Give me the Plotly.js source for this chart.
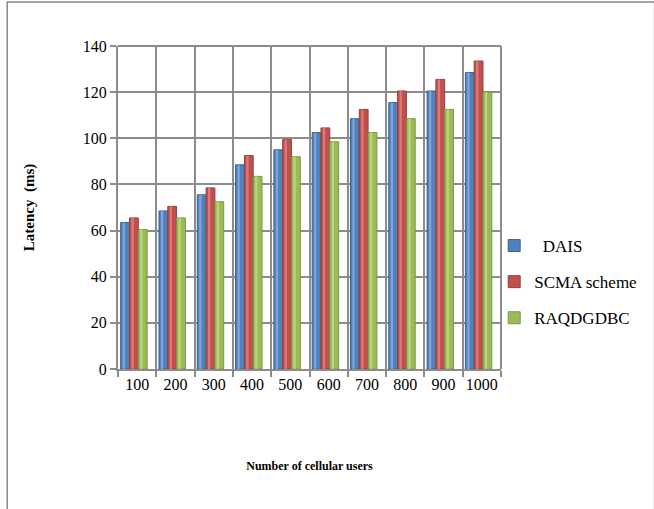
<!DOCTYPE html>
<html>
<head>
<meta charset="utf-8">
<script src="https://cdn.plot.ly/plotly-3.0.1.min.js"></script>
<style>
  html, body { margin: 0; padding: 0; background: #ffffff; }
  #chart { width: 654px; height: 509px; }
</style>
</head>
<body>
<div id="chart"></div>
<script>
// Latency (ms) per number of cellular users, for each scheme
const users = ['100', '200', '300', '400', '500', '600', '700', '800', '900', '1000'];
const dais = [63.5, 68.5, 75.5, 88.5, 95, 102.5, 108.5, 115.5, 120.5, 128.5];
const scma = [65.5, 70.5, 78.5, 92.5, 99.5, 104.5, 112.5, 120.5, 125.5, 133.5];
const raqdgdbc = [60.5, 65.5, 72.5, 83.5, 92, 98.5, 102.5, 108.5, 112.5, 120];

const seriesNames = ['\u00a0\u00a0DAIS', 'SCMA scheme', 'RAQDGDBC'];
const seriesValues = [dais, scma, raqdgdbc];
const fillColors = ['#4f81bd', '#c0504d', '#9bbb59'];
const edgeColors = ['#3a6295', '#94403e', '#789a40'];
const shineColors = ['#8fb2e0', '#e08a88', '#c4dd8f'];

const SERIF = 'Liberation Serif';

const xIdx = users.map((_, i) => i);
const barWidth = 0.23;
const offsets = [-0.43, -0.2, 0.03];

const traces = [];
// Main column bodies
seriesValues.forEach((vals, s) => {
  traces.push({
    type: 'bar',
    name: seriesNames[s],
    x: xIdx,
    y: vals,
    width: barWidth,
    offset: offsets[s],
    marker: { color: fillColors[s], line: { color: edgeColors[s], width: 1 } },
    legendgroup: 'g' + s,
    hoverinfo: 'y+name'
  });
});
// Light strip on each column for a rounded, shaded look
seriesValues.forEach((vals, s) => {
  traces.push({
    type: 'bar',
    x: xIdx,
    y: vals,
    width: 0.06,
    offset: offsets[s] + 0.05,
    marker: { color: shineColors[s], opacity: 0.75, line: { width: 0 } },
    showlegend: false,
    hoverinfo: 'skip'
  });
});

// pixel -> paper helpers for the frame around the figure
const L = 118, R = 512, T = 46, B = 369;
const px = v => (v - L) / (R - L);
const py = v => (B - v) / (B - T);

const layout = {
  width: 654,
  height: 509,
  margin: { l: L, r: 654 - R, t: T, b: 509 - B },
  paper_bgcolor: '#ffffff',
  plot_bgcolor: '#ffffff',
  barmode: 'overlay',
  font: { family: SERIF, size: 16, color: '#000000' },
  xaxis: {
    range: [-0.5, 9.5],
    tickmode: 'array',
    tickvals: xIdx,
    ticktext: users,
    ticks: '',
    showgrid: false,
    zeroline: false,
    showline: true,
    linecolor: '#8c8c8c',
    linewidth: 2,
    tickfont: { family: SERIF, size: 16, color: '#000000' },
    minor: {
      tick0: -0.5,
      dtick: 1,
      ticks: 'outside',
      ticklen: 6,
      tickwidth: 2,
      tickcolor: '#8c8c8c',
      showgrid: true,
      gridcolor: '#8c8c8c',
      gridwidth: 2
    },
    title: {
      text: '<b>Number of cellular users</b>',
      font: { family: SERIF, size: 12, color: '#000000' },
      standoff: 69
    },
    automargin: false,
    fixedrange: true
  },
  yaxis: {
    range: [0, 140],
    tickmode: 'linear',
    tick0: 0,
    dtick: 20,
    ticks: 'outside',
    ticklen: 6,
    tickwidth: 2,
    tickcolor: '#8c8c8c',
    showgrid: true,
    gridcolor: '#8c8c8c',
    gridwidth: 2,
    zeroline: false,
    showline: true,
    linecolor: '#8c8c8c',
    linewidth: 2,
    tickfont: { family: SERIF, size: 16, color: '#000000' },
    title: {
      text: '<b>Latency\u00a0\u00a0(ms)</b>',
      font: { family: SERIF, size: 15, color: '#000000' },
      standoff: 45
    },
    automargin: false,
    fixedrange: true
  },
  legend: {
    x: px(505),
    xanchor: 'left',
    y: py(282),
    yanchor: 'middle',
    traceorder: 'grouped',
    tracegroupgap: 11,
    font: { family: SERIF, size: 17, color: '#000000' },
    bgcolor: 'rgba(0,0,0,0)',
    itemwidth: 30
  },
  shapes: [
    {
      type: 'line', xref: 'paper', yref: 'paper', layer: 'below',
      x0: px(512), x1: px(512), y0: py(46), y1: py(369),
      line: { color: '#8c8c8c', width: 2 }
    },
    {
      type: 'line', xref: 'paper', yref: 'paper', layer: 'below',
      x0: px(118), x1: px(512), y0: py(46), y1: py(46),
      line: { color: '#8c8c8c', width: 2 }
    },
    {
      type: 'rect', xref: 'paper', yref: 'paper', layer: 'below',
      x0: px(4), x1: px(670), y0: py(2), y1: py(530),
      line: { color: '#888888', width: 1.5 }
    }
  ],
  showlegend: true
};

Plotly.newPlot('chart', traces, layout, { displayModeBar: false, staticPlot: true });
</script>
</body>
</html>
